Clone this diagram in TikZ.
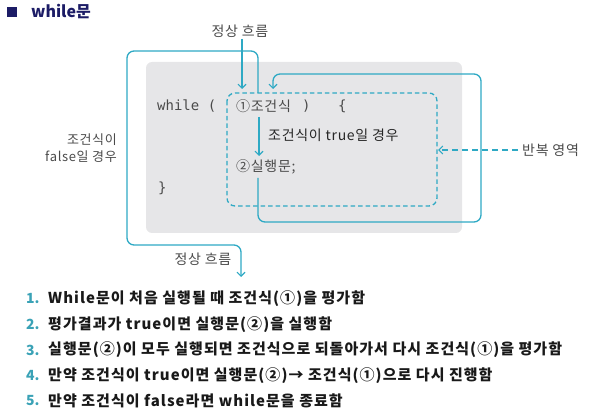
\documentclass[tikz,border=0pt]{standalone}
\usepackage{fontspec}
\setmainfont{Noto Sans CJK KR}
\newfontfamily\krs[LetterSpace=5]{Noto Sans CJK KR}
\newfontfamily\krl[LetterSpace=7]{Noto Sans CJK KR}
\newfontfamily\codefont{DejaVu Sans Mono}
\usetikzlibrary{arrows.meta}
\definecolor{teal1}{HTML}{2EA9C4}
\definecolor{navy1}{HTML}{1C1C66}
\definecolor{codegray}{HTML}{4A4A4A}
\definecolor{boxgray}{HTML}{E6E6E8}
\definecolor{numteal}{HTML}{3AA2B6}
\tikzset{
  flow/.style={draw=teal1, line width=1.3pt, rounded corners=7pt},
  tip/.style={-{Straight Barb[length=4pt,width=8pt,line width=1.1pt]}},
  lbl/.style={inner sep=0pt, text=codegray, font=\krs\fontsize{14}{17}\selectfont},
  code/.style={inner sep=0pt, anchor=west, text=codegray, font=\krs\fontsize{14}{16}\selectfont},
  mono/.style={inner sep=0pt, anchor=west, text=codegray, font=\codefont\fontsize{14}{16}\selectfont},
  item/.style={inner sep=0pt, anchor=west, font=\krl\bfseries\fontsize{15}{17}\selectfont, text=black!90},
  num/.style={inner sep=0pt, anchor=west, font=\bfseries\fontsize{14}{16}\selectfont, text=numteal}
}
\begin{document}
\begin{tikzpicture}[x=1pt,y=-1pt]
\useasboundingbox (0,0) rectangle (606,409);
% title
\fill[navy1] (7,7) rectangle (17,17);
\node[inner sep=0pt, anchor=west, text=navy1, font=\bfseries\fontsize{16}{18}\selectfont] (title) at (31,12) {while문};
% gray box
\fill[boxgray, rounded corners=6pt] (146,62) rectangle (462,233);
% dashed repeat region
\draw[draw=teal1, line width=1.3pt, dash pattern=on 4.5pt off 3pt, rounded corners=8pt] (227,93) rectangle (437,206);
% code text
\node[mono] (w) at (157,106) {while (};
\node[code] (c1) at (236,106) {①조건식};
\node[mono] (cp) at (302,106) {)};
\node[mono] (ob) at (338,106) {\{};
\node[code] (c2) at (236,167) {②실행문;};
\node[mono] (cb) at (158,188) {\}};
\node[inner sep=0pt, anchor=west, text=black!85, font=\krs\fontsize{14}{16}\selectfont] (tr) at (268,135) {조건식이 true일 경우};
% labels
\node[lbl] (n1) at (240,31) {정상 흐름};
\node[lbl] (n2) at (203,259) {정상 흐름};
\node[lbl, align=right, anchor=east, font=\krs\fontsize{13}{17}\selectfont] (fl) at (117,148.5) {조건식이\\false일 경우};
\node[lbl, anchor=west] (rp) at (522,150) {반복 영역};
% coordinates
\coordinate (a0) at (242,39);
\coordinate (a1) at (242,89);
\coordinate (f0) at (258,93);
\coordinate (f1) at (241,277);
\coordinate (t0) at (259,117);
\coordinate (t1) at (259,156);
\coordinate (r0) at (258,178);
\coordinate (r1) at (273,89);
\coordinate (d0) at (518,150);
\coordinate (d1) at (438,150);
% connectors
\draw[flow, tip] (a0) -- (a1);
\draw[flow, tip] (f0) -- (258,51) -- (127,51) -- (127,245) -- (241,245) -- (f1);
\draw[flow, tip] (t0) -- (t1);
\draw[flow, tip] (r0) -- (258,222) -- (481,222) -- (481,74) -- (273,74) -- (r1);
\draw[draw=teal1, line width=1.3pt, dash pattern=on 6pt off 4pt, tip] (d0) -- (d1);
% list
\node[num] (l1n) at (26,299) {1.};
\node[item] (l1) at (48,299) {While문이 처음 실행될 때 조건식(①)을 평가함};
\node[num] (l2n) at (26,324.5) {2.};
\node[item] (l2) at (48,324.5) {평가결과가 true이면 실행문(②)을 실행함};
\node[num] (l3n) at (26,350) {3.};
\node[item] (l3) at (48,350) {실행문(②)이 모두 실행되면 조건식으로 되돌아가서 다시 조건식(①)을 평가함};
\node[num] (l4n) at (26,375.5) {4.};
\node[item] (l4) at (48,375.5) {만약 조건식이 true이면 실행문(②)→ 조건식(①)으로 다시 진행함};
\node[num] (l5n) at (26,401) {5.};
\node[item] (l5) at (48,401) {만약 조건식이 false라면 while문을 종료함};
\end{tikzpicture}
\end{document}
